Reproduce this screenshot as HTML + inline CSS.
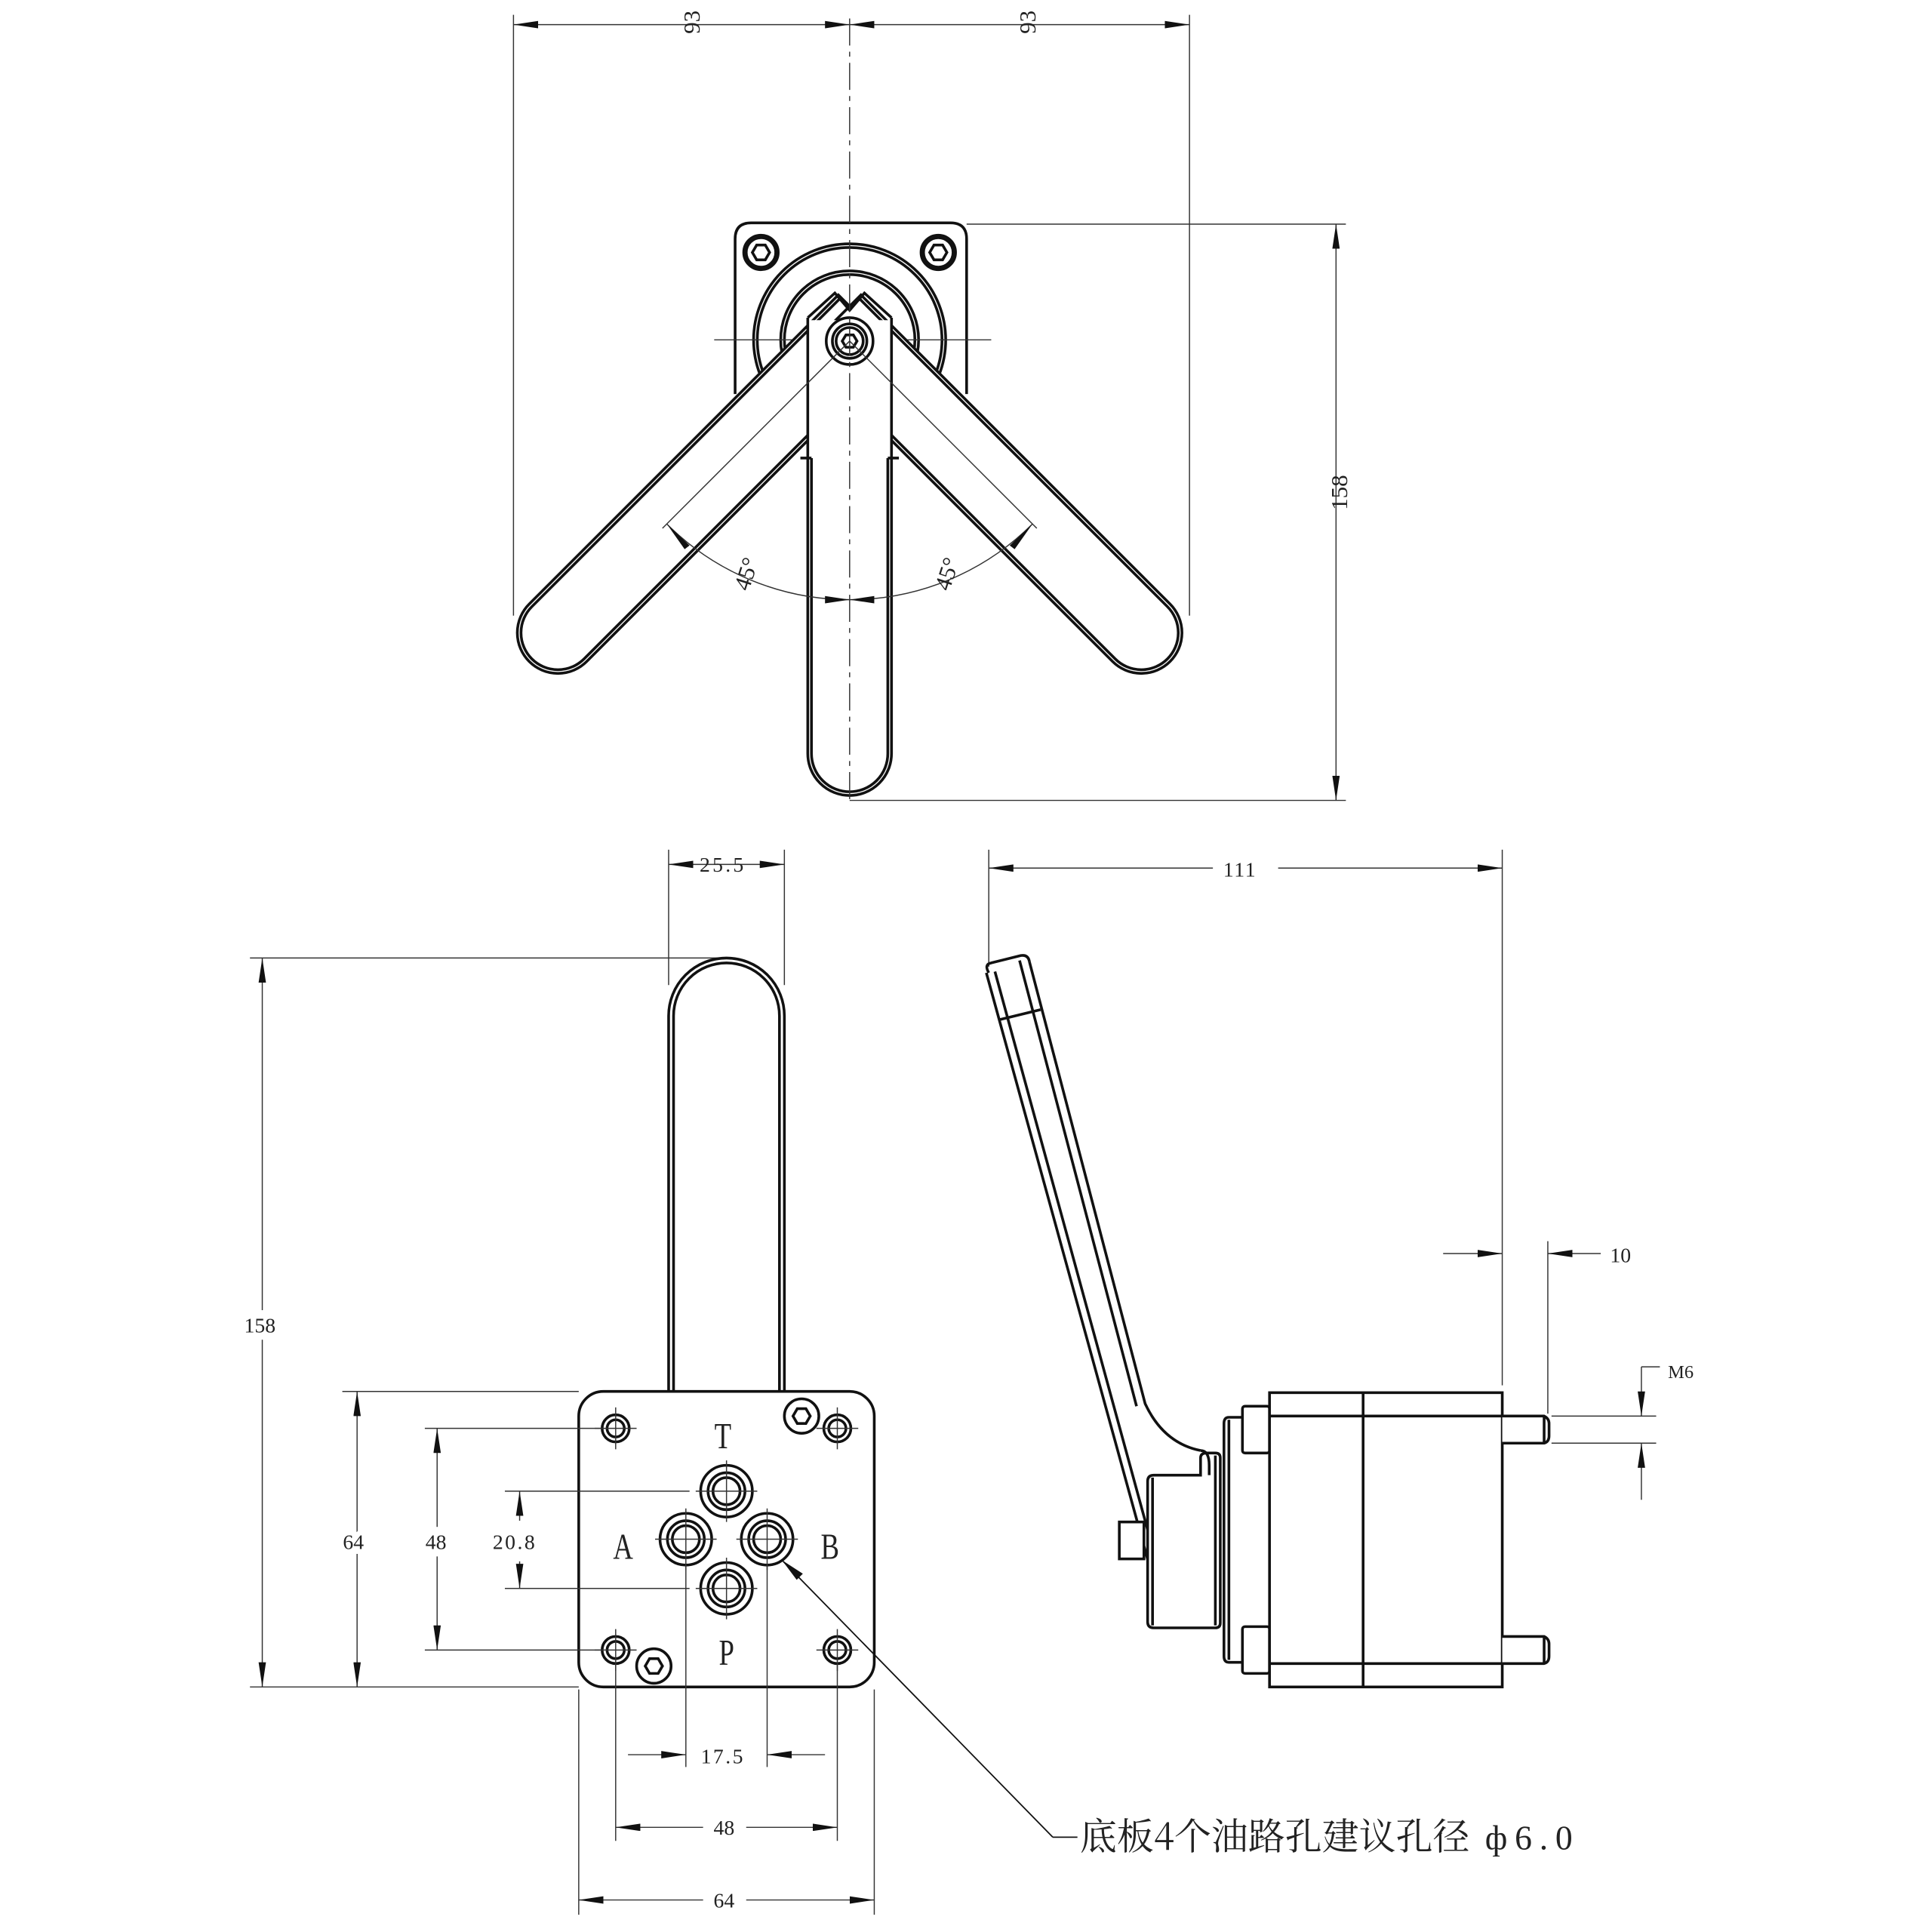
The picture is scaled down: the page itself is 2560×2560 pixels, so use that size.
<!DOCTYPE html>
<html><head><meta charset="utf-8"><style>
html,body{margin:0;padding:0;background:#fff}
svg{display:block}
text{font-family:"Liberation Serif","Noto Serif CJK SC",serif;fill:#222}
.t{stroke:#111;stroke-width:2.2;fill:none}
.w{stroke:#111;stroke-width:2.2;fill:#fff}
.th{stroke:#333;stroke-width:0.9;fill:none}
.c{stroke:#333;stroke-width:0.9;fill:none;stroke-dasharray:22,5,4,5}
</style></head><body>
<svg width="2560" height="2560" viewBox="0 0 1569 1569" xmlns="http://www.w3.org/2000/svg">
<defs>
<marker id="a" viewBox="0 0 20 6" refX="20" refY="3" markerWidth="20" markerHeight="6" markerUnits="userSpaceOnUse" orient="auto-start-reverse"><path d="M0,0 L20,3 L0,6 Z" fill="#111"/></marker>
</defs>

<!-- ===== TOP VIEW ===== -->
<line class="th" x1="417" y1="12" x2="417" y2="500"/>
<line class="th" x1="966" y1="12" x2="966" y2="500"/>
<line class="th" x1="417" y1="20" x2="690" y2="20" marker-start="url(#a)" marker-end="url(#a)"/>
<line class="th" x1="690" y1="20" x2="966" y2="20" marker-start="url(#a)" marker-end="url(#a)"/>
<text x="562" y="18" font-size="19" transform="rotate(-90 562 18)" text-anchor="middle" dy="6">93</text>
<text x="835" y="18" font-size="19" transform="rotate(-90 835 18)" text-anchor="middle" dy="6">93</text>

<line class="th" x1="785" y1="182" x2="1093" y2="182"/>
<line class="th" x1="690" y1="650" x2="1093" y2="650"/>
<line class="th" x1="1085" y1="182" x2="1085" y2="650" marker-start="url(#a)" marker-end="url(#a)"/>
<text x="1094" y="400" font-size="19" transform="rotate(-90 1094 400)" text-anchor="middle">158</text>

<!-- flange -->
<path class="w" d="M597,320 L597,194 Q597,181 610,181 L772,181 Q785,181 785,194 L785,320"/>
<circle class="t" cx="618" cy="205" r="14"/><circle class="t" cx="618" cy="205" r="12"/>
<polygon class="t" stroke-width="1.4" points="625,205 621.5,211 614.5,211 611,205 614.5,199 621.5,199"/>
<circle class="t" cx="762" cy="205" r="14"/><circle class="t" cx="762" cy="205" r="12"/>
<polygon class="t" stroke-width="1.4" points="769,205 765.5,211 758.5,211 755,205 758.5,199 765.5,199"/>
<circle class="t" cx="690" cy="276" r="78"/><circle class="t" cx="690" cy="276" r="75"/>
<circle class="t" cx="690" cy="276" r="56"/><circle class="t" cx="690" cy="276" r="53"/>
<line class="th" x1="580" y1="276" x2="805" y2="276"/>

<!-- diagonal arms -->
<g transform="translate(690,277) rotate(45)">
<path class="w" d="M-33,-20 L20,-20 L33,-8 L33,335 A33,33 0 0 1 -33,335 Z"/>
<path class="t" d="M-30,-18 L-30,335 A30,30 0 0 0 30,335 L30,-6"/>
</g>
<g transform="translate(690,277) rotate(-45)">
<path class="w" d="M33,-20 L-20,-20 L-33,-8 L-33,335 A33,33 0 0 0 33,335 Z"/>
<path class="t" d="M30,-18 L30,335 A30,30 0 0 1 -30,335 L-30,-6"/>
</g>
<!-- vertical arm -->
<path d="M656,260 L724,260 L724,612 A34,34 0 0 1 656,612 Z" fill="#fff"/>
<path class="t" d="M656,258 L656,612 A34,34 0 0 0 724,612 L724,258"/>
<path class="t" d="M659,372 L659,612 A31,31 0 0 0 721,612 L721,372"/>
<path class="t" d="M650,372 L659,372 M721,372 L730,372"/>
<!-- V top lines over vertical arm -->
<path class="t" d="M656,258 L678,238 L690,252 L702,238 L724,258"/>
<!-- hub -->
<circle class="w" cx="690" cy="277" r="19"/>
<circle class="t" cx="690" cy="277" r="14"/><circle class="t" cx="690" cy="277" r="11"/>
<polygon class="t" stroke-width="1.2" points="696,277 693,282 687,282 684,277 687,272 693,272"/>
<line class="c" x1="690" y1="15" x2="690" y2="650"/>

<!-- 45 deg -->
<line class="th" x1="690" y1="277" x2="538" y2="429"/>
<line class="th" x1="690" y1="277" x2="842" y2="429"/>
<path class="th" d="M541.5,425.5 A210,210 0 0 0 690,487 A210,210 0 0 0 838.5,425.5"/>
<polygon fill="#111" points="541.5,425.5 560,443 556,446"/>
<polygon fill="#111" points="838.5,425.5 820,443 824,446"/>
<polygon fill="#111" points="690,487 670,484 670,490"/>
<polygon fill="#111" points="690,487 710,484 710,490"/>
<text x="612" y="468" font-size="19" transform="rotate(-72 612 468)" text-anchor="middle">45°</text>
<text x="775" y="468" font-size="19" transform="rotate(-72 775 468)" text-anchor="middle">45°</text>

<!-- ===== FRONT VIEW ===== -->
<line class="th" x1="543" y1="690" x2="543" y2="800"/>
<line class="th" x1="637" y1="690" x2="637" y2="800"/>
<line class="th" x1="543" y1="702" x2="637" y2="702" marker-start="url(#a)" marker-end="url(#a)"/>
<text x="587" y="708" font-size="17" letter-spacing="2" text-anchor="middle">25.5</text>

<line class="th" x1="203" y1="778" x2="590" y2="778"/>
<line class="th" x1="203" y1="1370" x2="470" y2="1370"/>
<line class="th" x1="213" y1="778" x2="213" y2="1370" marker-start="url(#a)" marker-end="url(#a)"/>
<rect x="195" y="1064" width="34" height="24" fill="#fff"/>
<text x="211" y="1082" font-size="17" text-anchor="middle">158</text>

<path class="t" d="M543,1132 L543,825 A47,47 0 0 1 637,825 L637,1132"/>
<path class="t" d="M547,1132 L547,825 A43,43 0 0 1 633,825 L633,1132"/>

<rect class="w" x="470" y="1130" width="240" height="240" rx="20"/>

<line class="th" x1="278" y1="1130" x2="470" y2="1130"/>
<line class="th" x1="290" y1="1130" x2="290" y2="1370" marker-start="url(#a)" marker-end="url(#a)"/>
<text x="287" y="1258" font-size="17" text-anchor="middle" fill="#fff" stroke="#fff" stroke-width="8">64</text>
<text x="287" y="1258" font-size="17" text-anchor="middle">64</text>
<line class="th" x1="345" y1="1160" x2="488" y2="1160"/>
<line class="th" x1="345" y1="1340" x2="488" y2="1340"/>
<line class="th" x1="355" y1="1160" x2="355" y2="1340" marker-start="url(#a)" marker-end="url(#a)"/>
<rect x="343" y="1240" width="24" height="24" fill="#fff"/>
<text x="354" y="1258" font-size="17" text-anchor="middle">48</text>
<line class="th" x1="410" y1="1211" x2="560" y2="1211"/>
<line class="th" x1="410" y1="1290" x2="560" y2="1290"/>
<line class="th" x1="422" y1="1211" x2="422" y2="1235" marker-start="url(#a)"/>
<line class="th" x1="422" y1="1268" x2="422" y2="1290" marker-end="url(#a)"/>
<text x="418" y="1258" font-size="17" letter-spacing="1.5" text-anchor="middle">20.8</text>

<!-- corner holes -->
<g>
<circle class="t" cx="500" cy="1160" r="11"/><circle class="t" cx="500" cy="1160" r="7"/>
<circle class="t" cx="680" cy="1160" r="11"/><circle class="t" cx="680" cy="1160" r="7"/>
<circle class="t" cx="500" cy="1340" r="11"/><circle class="t" cx="500" cy="1340" r="7"/>
<circle class="t" cx="680" cy="1340" r="11"/><circle class="t" cx="680" cy="1340" r="7"/>
<path class="th" d="M483,1160 H517 M500,1143 V1177 M663,1160 H697 M680,1143 V1177 M483,1340 H517 M500,1323 V1357 M663,1340 H697 M680,1323 V1357"/>
</g>
<circle class="t" cx="651" cy="1150" r="14"/>
<polygon class="t" stroke-width="1.4" points="658,1150 654.5,1156 647.5,1156 644,1150 647.5,1144 654.5,1144"/>
<circle class="t" cx="531" cy="1353" r="14"/>
<polygon class="t" stroke-width="1.4" points="538,1353 534.5,1359 527.5,1359 524,1353 527.5,1347 534.5,1347"/>

<!-- ports -->
<g>
<circle class="t" cx="590" cy="1211" r="21"/><circle class="t" cx="590" cy="1211" r="15"/><circle class="t" cx="590" cy="1211" r="11"/>
<circle class="t" cx="557" cy="1250" r="21"/><circle class="t" cx="557" cy="1250" r="15"/><circle class="t" cx="557" cy="1250" r="11"/>
<circle class="t" cx="623" cy="1250" r="21"/><circle class="t" cx="623" cy="1250" r="15"/><circle class="t" cx="623" cy="1250" r="11"/>
<circle class="t" cx="590" cy="1290" r="21"/><circle class="t" cx="590" cy="1290" r="15"/><circle class="t" cx="590" cy="1290" r="11"/>
<path class="th" d="M565,1211 H615 M590,1186 V1236 M532,1250 H582 M557,1225 V1275 M598,1250 H648 M623,1225 V1275 M565,1290 H615 M590,1265 V1315"/>
</g>
<g font-size="30" text-anchor="middle">
<text x="587" y="1176" transform="scale(0.75,1) translate(195.7,0)">T</text>
<text x="506" y="1266" transform="scale(0.75,1) translate(168.7,0)">A</text>
<text x="674" y="1266" transform="scale(0.75,1) translate(224.7,0)">B</text>
<text x="590" y="1352" transform="scale(0.75,1) translate(196.7,0)">P</text>
</g>

<line class="th" x1="557" y1="1272" x2="557" y2="1435"/>
<line class="th" x1="623" y1="1272" x2="623" y2="1435"/>
<line class="th" x1="510" y1="1425" x2="557" y2="1425" marker-end="url(#a)"/>
<line class="th" x1="670" y1="1425" x2="623" y2="1425" marker-end="url(#a)"/>
<text x="587" y="1432" font-size="17" letter-spacing="1.5" text-anchor="middle">17.5</text>
<line class="th" x1="500" y1="1352" x2="500" y2="1495"/>
<line class="th" x1="680" y1="1352" x2="680" y2="1495"/>
<line class="th" x1="500" y1="1484" x2="571" y2="1484" marker-start="url(#a)"/>
<line class="th" x1="606" y1="1484" x2="680" y2="1484" marker-end="url(#a)"/>
<text x="588" y="1490" font-size="17" text-anchor="middle">48</text>
<line class="th" x1="470" y1="1372" x2="470" y2="1555"/>
<line class="th" x1="710" y1="1372" x2="710" y2="1555"/>
<line class="th" x1="470" y1="1543" x2="571" y2="1543" marker-start="url(#a)"/>
<line class="th" x1="606" y1="1543" x2="710" y2="1543" marker-end="url(#a)"/>
<text x="588" y="1549" font-size="17" text-anchor="middle">64</text>

<!-- leader -->
<line x1="636" y1="1268" x2="855" y2="1492" stroke="#111" stroke-width="1.1"/>
<line x1="855" y1="1492" x2="875" y2="1492" stroke="#111" stroke-width="1.1"/>
<polygon fill="#111" points="635,1267 652,1278 647,1283"/>
<text x="877" y="1502" font-size="30" style="font-family:'Noto Serif CJK SC','Liberation Serif',serif">底板4个油路孔建议孔径</text>
<text x="1206" y="1502" font-size="28" letter-spacing="6">ф6.0</text>

<!-- ===== SIDE VIEW ===== -->
<line class="th" x1="803" y1="690" x2="803" y2="785"/>
<line class="th" x1="1220" y1="690" x2="1220" y2="1125"/>
<line class="th" x1="803" y1="705" x2="985" y2="705" marker-start="url(#a)"/>
<line class="th" x1="1038" y1="705" x2="1220" y2="705" marker-end="url(#a)"/>
<text x="1007" y="712" font-size="17" letter-spacing="1" text-anchor="middle">111</text>

<!-- handle -->
<path class="t" d="M803,790 Q799,783 805,782 L829,776 Q835,775 836,781"/>
<path class="t" d="M801,790 L933,1270"/>
<path class="t" d="M808,789 L939,1268"/>
<path class="t" d="M836,781 L930,1140 Q945,1172 975,1178"/>
<path class="t" d="M828,780 L923,1142"/>
<path class="t" d="M812,828 L845,820"/>

<!-- hub block -->
<path class="w" d="M932,1203 Q932,1198 937,1198 L975,1198 L975,1184 Q975,1180 980,1180 L987,1180 Q991,1180 991,1184 L991,1318 Q991,1322 987,1322 L937,1322 Q932,1322 932,1317 Z"/>
<line class="t" x1="936" y1="1200" x2="936" y2="1320"/>
<line class="t" x1="987" y1="1182" x2="987" y2="1320"/>
<rect class="w" x="909" y="1236" width="20" height="30"/>
<path class="t" d="M975,1178 Q982,1178 982,1190 L982,1198"/>
<!-- plate -->
<path class="w" d="M1009,1151 L998,1151 Q994,1151 994,1156 L994,1345 Q994,1350 998,1350 L1009,1350"/>
<line class="t" x1="998" y1="1153" x2="998" y2="1348"/>
<rect class="w" x="1009" y="1142" width="22" height="38" rx="2"/>
<rect class="w" x="1009" y="1321" width="22" height="38" rx="2"/>
<!-- body -->
<rect class="w" x="1031" y="1131" width="189" height="239"/>
<line class="t" x1="1107" y1="1131" x2="1107" y2="1370"/>
<line class="t" x1="1031" y1="1150" x2="1220" y2="1150"/>
<line class="t" x1="1031" y1="1351" x2="1220" y2="1351"/>
<!-- bolts -->
<path class="w" d="M1220,1150 L1254,1150 Q1258,1152 1258,1156 L1258,1166 Q1258,1171 1254,1172 L1220,1172"/>
<path class="w" d="M1220,1329 L1254,1329 Q1258,1331 1258,1335 L1258,1345 Q1258,1350 1254,1351 L1220,1351"/>
<line class="t" x1="1254" y1="1151" x2="1254" y2="1171"/>
<line class="t" x1="1254" y1="1330" x2="1254" y2="1350"/>

<!-- 10 dim -->
<line class="th" x1="1257" y1="1008" x2="1257" y2="1148"/>
<line class="th" x1="1172" y1="1018" x2="1220" y2="1018" marker-end="url(#a)"/>
<line class="th" x1="1300" y1="1018" x2="1257" y2="1018" marker-end="url(#a)"/>
<text x="1316" y="1025" font-size="17" text-anchor="middle">10</text>
<!-- M6 -->
<line class="th" x1="1260" y1="1150" x2="1345" y2="1150"/>
<line class="th" x1="1260" y1="1172" x2="1345" y2="1172"/>
<line class="th" x1="1333" y1="1110" x2="1333" y2="1150" marker-end="url(#a)"/>
<line class="th" x1="1333" y1="1218" x2="1333" y2="1172" marker-end="url(#a)"/>
<line class="th" x1="1333" y1="1110" x2="1348" y2="1110"/>
<text x="1365" y="1119" font-size="15" text-anchor="middle">M6</text>
</svg>
</body></html>
